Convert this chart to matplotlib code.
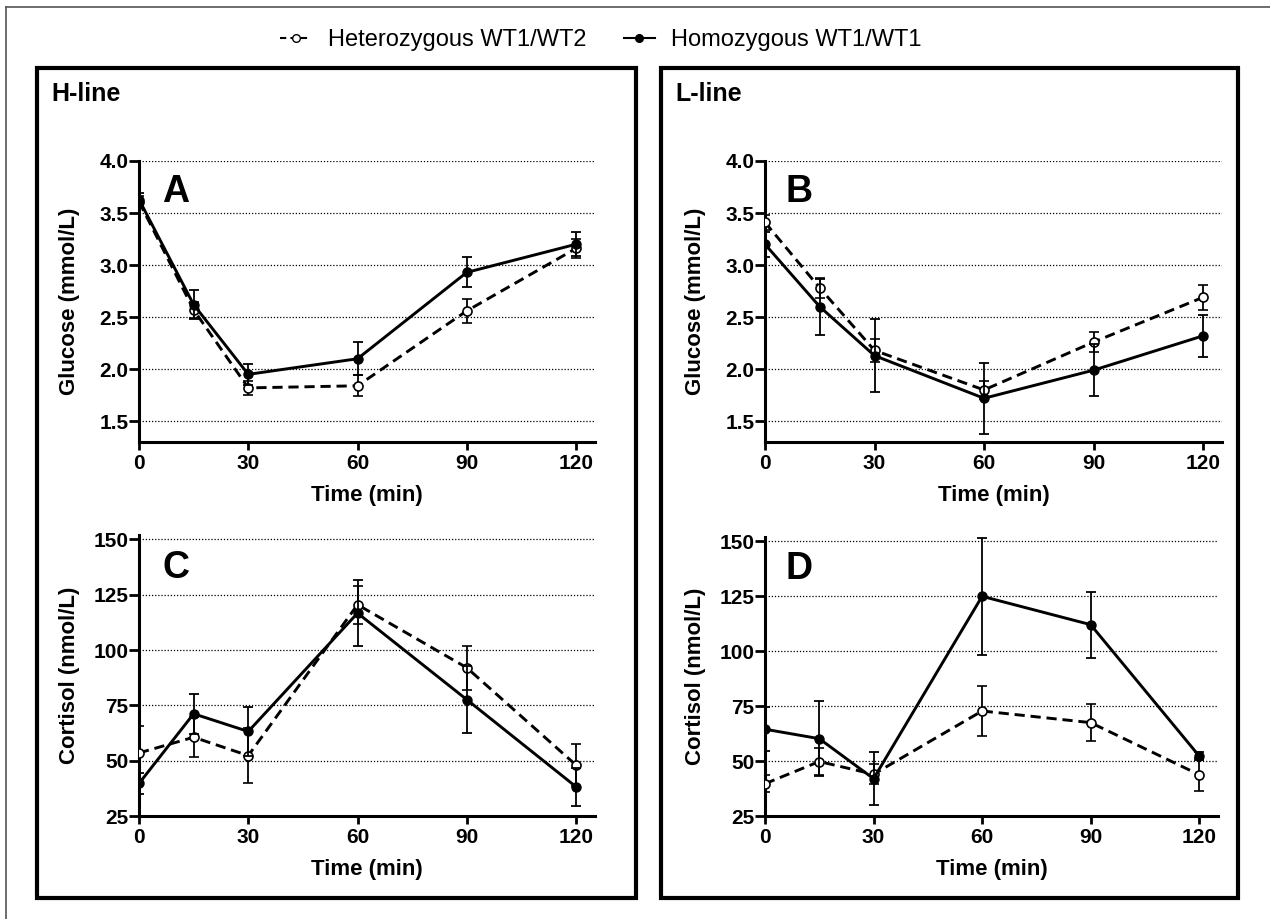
import matplotlib
matplotlib.use("Agg")
import matplotlib.pyplot as plt
from matplotlib.lines import Line2D
from matplotlib.patches import Rectangle

plt.rcParams['font.family'] = ['Liberation Sans', 'DejaVu Sans']

time = [0, 15, 30, 60, 90, 120]
legend_labels = ["Heterozygous WT1/WT2", "Homozygous WT1/WT1"]

glucose_H_het = [3.61, 2.57, 1.82, 1.84, 2.56, 3.16]
glucose_H_het_err = [0.05, 0.08, 0.065, 0.10, 0.115, 0.09]
glucose_H_hom = [3.63, 2.62, 1.95, 2.10, 2.93, 3.20]
glucose_H_hom_err = [0.06, 0.14, 0.10, 0.16, 0.145, 0.115]

glucose_L_het = [3.41, 2.78, 2.18, 1.80, 2.26, 2.69]
glucose_L_het_err = [0.07, 0.10, 0.11, 0.09, 0.10, 0.12]
glucose_L_hom = [3.20, 2.60, 2.13, 1.72, 1.99, 2.32]
glucose_L_hom_err = [0.12, 0.27, 0.35, 0.34, 0.25, 0.20]

cortisol_H_het = [53.5, 60.6, 52.3, 120.5, 92.0, 48.0]
cortisol_H_het_err = [12.0, 9.0, 12.5, 8.5, 10.0, 9.5]
cortisol_H_hom = [39.7, 71.2, 63.2, 116.7, 77.6, 38.2]
cortisol_H_hom_err = [4.7, 9.0, 11.0, 15.0, 15.0, 8.5]

cortisol_L_het = [39.7, 49.8, 44.0, 72.8, 67.5, 43.8]
cortisol_L_het_err = [4.0, 6.0, 4.5, 11.5, 8.5, 7.5]
cortisol_L_hom = [64.5, 60.2, 42.0, 125.0, 112.1, 52.3]
cortisol_L_hom_err = [10.0, 17.0, 12.0, 26.5, 15.0, 2.0]

glucose_ticks = [1.5, 2.0, 2.5, 3.0, 3.5, 4.0]
cortisol_ticks = [25, 50, 75, 100, 125, 150]
time_ticks = [0, 30, 60, 90, 120]

W, H = 1270, 919
fig = plt.figure(figsize=(W / 100, H / 100), dpi=100)


def px_axes(left, top, right, bottom):
    return fig.add_axes([left / W, 1 - bottom / H, (right - left) / W, (bottom - top) / H])


def draw_panel(ax, het, het_err, hom, hom_err, ylim, yticks, yfmt, ylabel, letter,
               left, top, bottom, ylabel_x, xlabel_y, letter_xy):
    ax.errorbar(time, het, yerr=het_err, color='black', lw=2.1, ls=(0, (3.5, 2.0)),
                marker='o', ms=6.5, mfc='white', mec='black', mew=1.2,
                ecolor='black', elinewidth=1.3, capsize=3.8, capthick=1.3, zorder=3)
    ax.errorbar(time, hom, yerr=hom_err, color='black', lw=2.1, ls='-',
                marker='o', ms=6.5, mfc='black', mec='black',
                ecolor='black', elinewidth=1.3, capsize=3.8, capthick=1.3, zorder=4)
    ax.set_xlim(0, 125.2)
    ax.set_ylim(*ylim)
    ax.set_yticks(yticks)
    ax.set_yticklabels([yfmt.format(v) for v in yticks], fontsize=15, fontweight='bold')
    ax.set_xticks(time_ticks)
    ax.set_xticklabels([str(v) for v in time_ticks], fontsize=15, fontweight='bold')
    for v in yticks:
        ax.axhline(v, color='black', lw=0.9, ls=(0, (1, 1.5)), zorder=1)
    for s in ['top', 'right']:
        ax.spines[s].set_visible(False)
    for s in ['left', 'bottom']:
        ax.spines[s].set_linewidth(2.2)
    ax.tick_params(axis='y', direction='out', length=7, width=2.0, pad=0.5)
    ax.tick_params(axis='x', direction='out', length=5.5, width=2.0, pad=3)
    ax.set_xlabel("Time (min)", fontsize=16, fontweight='bold')
    ax.set_ylabel(ylabel, fontsize=16, fontweight='bold')
    # place labels in pixel coordinates
    bb = ax.get_position()
    ax_h = (bottom - top)
    ax.xaxis.set_label_coords(0.5, -(xlabel_y - bottom) / ax_h)
    ax.xaxis.label.set_va('center')
    ax_w = bb.width * W
    ax.yaxis.set_label_coords(-(left - ylabel_x) / ax_w, 0.5)
    ax.yaxis.label.set_va('center')
    lx, ly = letter_xy
    fig.text(lx / W, 1 - ly / H, letter, fontsize=27, fontweight='bold',
             va='baseline', ha='left')
    ax.patch.set_alpha(0)


axA = px_axes(139, 161, 595, 442)
draw_panel(axA, glucose_H_het, glucose_H_het_err, glucose_H_hom, glucose_H_hom_err,
           (1.3, 4.0), glucose_ticks, "{:.1f}", "Glucose (mmol/L)", "A",
           139, 161, 442, 69, 495, (162, 202))
axB = px_axes(765, 161, 1222, 442)
draw_panel(axB, glucose_L_het, glucose_L_het_err, glucose_L_hom, glucose_L_hom_err,
           (1.3, 4.0), glucose_ticks, "{:.1f}", "Glucose (mmol/L)", "B",
           765, 161, 442, 696, 495, (786, 202))
axC = px_axes(139, 535, 595, 816)
draw_panel(axC, cortisol_H_het, cortisol_H_het_err, cortisol_H_hom, cortisol_H_hom_err,
           (25, 152), cortisol_ticks, "{:d}", "Cortisol (nmol/L)", "C",
           139, 535, 816, 69, 869, (162, 578))
axD = px_axes(765, 537, 1218, 816)
draw_panel(axD, cortisol_L_het, cortisol_L_het_err, cortisol_L_hom, cortisol_L_hom_err,
           (25, 152), cortisol_ticks, "{:d}", "Cortisol (nmol/L)", "D",
           765, 537, 816, 696, 869, (786, 579))

# panel boxes
for (l, t, r, b) in [(37, 68, 636, 898), (661, 68, 1238, 898)]:
    fig.add_artist(Rectangle((l / W, 1 - b / H), (r - l) / W, (b - t) / H,
                             transform=fig.transFigure, fill=False, lw=3.0,
                             edgecolor='black'))
fig.text(51 / W, 1 - 94 / H, "H-line", fontsize=18, fontweight='bold', va='center')
fig.text(675 / W, 1 - 94 / H, "L-line", fontsize=18, fontweight='bold', va='center')

# outer thin border (left and top)
fig.add_artist(Line2D([6 / W, 6 / W], [0, 1 - 7 / H], transform=fig.transFigure,
                      color='#555555', lw=1.2))
fig.add_artist(Line2D([6 / W, 1], [1 - 7 / H, 1 - 7 / H], transform=fig.transFigure,
                      color='#555555', lw=1.2))

# legend
h1 = Line2D([], [], color='black', lw=1.5, ls=(0, (3, 2)), marker='o', ms=5.5,
            mfc='white', mec='black')
h2 = Line2D([], [], color='black', lw=1.5, ls='-', marker='o', ms=5.5, mfc='black')
fig.legend([h1, h2], legend_labels, loc='center', bbox_to_anchor=(601 / W, 1 - 40 / H),
           ncol=2, frameon=False, fontsize=17, handlelength=1.3, columnspacing=1.6,
           handletextpad=0.7)

fig.savefig("out.png", dpi=100)
